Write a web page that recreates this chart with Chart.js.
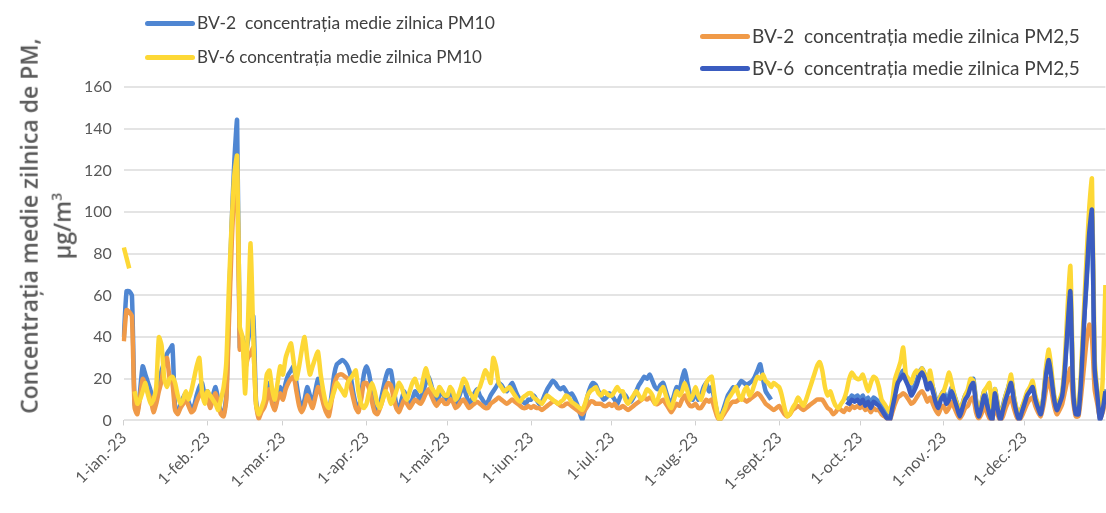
<!DOCTYPE html>
<html>
<head>
<meta charset="utf-8">
<script src="https://cdn.jsdelivr.net/npm/chart.js@4.4.0/dist/chart.umd.min.js"></script>
<style>
  body { margin: 0; background: #fff; }
  #wrap { position: relative; width: 1106px; height: 513px; font-family: Lato, 'Open Sans', sans-serif; overflow: hidden; }
  #chart { position: absolute; left: 0; top: 0; }
  .leg { position: absolute; display: flex; align-items: center; color: #404040; white-space: pre; line-height: 20px; }
  .leg .swatch { display: inline-block; width: 50px; height: 5px; border-radius: 3px; margin-right: 2px; }
  #ytitle { position: absolute; left: 45px; top: 226px; transform: translate(-50%, -50%) rotate(-90deg);
    text-align: center; color: #595959; font-family: 'Open Sans', sans-serif; font-weight: 600; font-size: 23px;
    line-height: 28px; white-space: nowrap; }
</style>
</head>
<body>
<div id="wrap">
  <!-- canvas is a little wider than the page so the plot runs to the right edge like the cropped original -->
  <canvas id="chart" width="1122" height="513"></canvas>
  <div id="ytitle">Concentrația medie zilnica de PM,<br>µg/m<sup style="font-size:14px">3</sup></div>
  <div id="legend"></div>
</div>
<script>
// x axis: one category per day of 2023, only the 1st of each month is labelled
var monthNames = ['ian.', 'feb.', 'mar.', 'apr.', 'mai', 'iun.', 'iul.', 'aug.', 'sept.', 'oct.', 'nov.', 'dec.'];
var monthDays = [31, 28, 31, 30, 31, 30, 31, 31, 30, 31, 30, 31];
var yMin = 0, yMax = 160, yStep = 20;

var seriesNames = [
  'BV-2  concentrația medie zilnica PM10',
  'BV-6 concentrația medie zilnica PM10',
  'BV-2  concentrația medie zilnica PM2,5',
  'BV-6  concentrația medie zilnica PM2,5'
];

// BV-2 PM10, one line per month
var bv2Pm10 = [
  40,62,62,60,8,4,14,26,22,18, 14,6,10,18,24,28,32,34,36,6, 4,8,11,13,9,6,7,12,16,18, 12,
  14,8,12,16,10,4,3,12,55,95, 125,144,35,40,30,38,45,50,10,2, 5,8,12,18,10,6,12,16,
  12,18,22,24,26,18,10,6,10,16, 12,8,14,20,16,10,6,4,12,22, 27,28,29,28,26,22,14,8,5,12, 22,
  26,22,14,6,4,8,14,20,24,24, 16,8,5,10,14,10,7,10,14,12, 10,14,18,21,17,12,9,12,14,11,
  10,14,12,8,10,14,16,12,8,10, 13,15,12,10,8,9,12,14,16,18, 17,15,14,16,18,15,12,10,9,8, 10,
  10,12,10,8,9,12,15,17,19,18, 16,15,16,14,12,13,11,8,4,0, 6,12,16,18,17,14,12,10,11,13,
  12,10,8,11,13,12,10,9,11,14, 17,19,21,20,22,19,16,15,17,18, 14,10,8,12,16,14,20,24,18,12, 10,
  14,10,12,16,18,14,16,10,4,0, 4,8,12,14,16,15,17,19,18,17, 18,19,21,24,27,20,14,12,10,null, null,
  null,null,null,null,null,null,null,null,null,null, null,null,null,null,null,null,null,null,null,null, null,null,null,null,null,11,10,12,11,12,
  10,12,9,11,8,11,10,9,7,5, 3,2,8,14,20,22,24,21,18,14, 16,19,23,25,22,17,20,16,11,8, 12,
  14,10,12,16,12,8,3,8,12,14, 18,20,10,3,8,14,10,4,1,15, 8,1,7,12,16,20,12,5,1,6,
  9,13,15,17,11,7,4,11,24,30, 21,11,6,9,13,26,46,60,16,4, 4,21,46,66,88,98,24,11,1,6, 15
];

// BV-6 PM10
var bv6Pm10 = [
  83,78,73,null,14,8,10,14,18,12, 8,10,16,40,36,20,16,20,21,18, 12,8,10,14,10,14,20,26,30,14, 8,
  14,12,10,8,5,10,16,28,65,95, 118,127,45,40,13,45,85,40,8,3, 6,10,22,24,15,10,18,26,
  22,30,34,37,28,20,26,34,40,30, 22,26,30,33,22,14,8,6,10,14, 18,16,14,12,18,20,22,24,14,8, 6,
  8,14,18,14,8,6,10,14,12,8, 10,14,18,16,12,10,14,18,20,16, 14,20,25,20,16,14,12,16,14,12,
  12,16,14,10,12,16,20,18,14,12, 10,14,16,20,24,22,18,30,26,18, 16,14,15,16,14,12,10,9,11,12, 13,
  13,11,10,9,8,10,12,11,10,9, 8,9,10,12,11,9,8,7,6,5, 8,12,14,15,16,13,12,14,13,12,
  12,14,16,14,14,10,8,10,12,14, 12,10,12,15,14,12,8,10,14,16, 12,8,6,10,14,12,14,18,14,10, 12,
  16,12,10,14,18,20,21,12,4,0, 3,6,10,12,14,16,12,10,14,16, 12,14,18,21,20,22,19,18,16,18, 17,
  16,12,6,2,3,6,8,11,9,7, 10,14,18,22,26,28,24,16,12,14, 10,7,6,8,10,14,20,23,21,20,
  20,22,18,14,18,21,20,16,10,8, 6,4,10,20,24,28,35,22,20,18, 22,24,22,25,22,18,24,16,10,8, 12,
  14,18,23,18,12,8,4,8,12,15, 20,19,10,4,8,14,16,18,6,15, 8,2,6,12,16,22,12,6,2,6,
  10,14,16,19,12,8,5,12,26,34, 24,12,7,10,14,30,55,74,20,5, 5,25,52,78,102,116,30,14,3,20, 65
];

// BV-2 PM2,5
var bv2Pm25 = [
  38,53,52,50,6,3,11,20,17,13, 10,4,8,14,19,28,30,20,18,5, 3,6,8,10,7,4,5,9,12,14, 10,
  11,6,10,13,8,3,2,10,48,85, 110,120,34,36,25,30,32,35,8,1, 4,6,10,15,8,5,10,13,
  10,15,18,20,21,14,7,4,7,12, 9,6,11,16,13,8,4,2,9,17, 21,22,22,21,20,17,11,6,4,10, 18,
  18,15,9,4,3,6,10,15,18,17, 11,6,4,7,10,8,6,8,10,9, 8,10,13,15,12,9,7,9,10,8,
  8,10,9,6,7,9,10,8,6,7, 8,9,8,7,6,6,8,9,10,11, 10,9,8,9,10,9,8,7,6,6, 7,
  6,7,6,6,5,6,7,8,9,9, 8,7,7,8,8,7,6,5,4,3, 5,7,9,9,8,8,8,7,7,8,
  7,8,6,6,7,6,5,6,7,8, 9,10,11,10,11,10,8,8,9,10, 8,6,4,6,8,7,10,12,9,7, 7,
  8,6,6,8,10,9,10,6,2,0, 2,4,6,8,9,9,10,11,10,9, 10,11,12,13,12,10,8,7,6,5, 6,
  7,5,3,2,3,5,6,7,6,5, 6,7,8,9,10,10,10,8,6,5, 3,4,6,5,4,6,5,7,6,7,
  6,7,5,6,4,6,5,5,3,2, 1,0,4,8,11,12,13,12,10,8, 9,11,13,14,12,9,11,8,5,3, 6,
  7,4,6,9,6,3,1,3,6,7, 10,11,4,1,3,7,4,1,0,8, 3,0,2,6,9,11,6,2,0,2,
  5,8,10,11,7,4,2,7,15,20, 14,7,3,5,8,14,20,25,10,2, 2,12,25,38,46,40,15,8,1,4, 10
];

// BV-6 PM2,5 only starts at the end of September (day index 268 = 26-sept.)
var bv6Pm25Start = 268;
var bv6Pm25 = [
  9,8,10,9,10,
  8,10,7,9,6,9,8,7,5,3, 1,0,6,12,18,20,22,19,16,12, 14,17,21,23,20,15,18,14,9,6, 10,
  12,8,10,14,10,6,2,6,10,12, 16,18,8,2,6,12,8,3,0,13, 6,0,5,10,14,18,10,4,0,4,
  8,12,14,16,10,6,3,10,22,29, 20,10,5,8,12,25,45,62,15,3, 3,20,45,68,90,101,25,12,0,5, 14
];

var colors = ['#4f86d2', '#fdd836', '#f09a48', '#3a5cc0'];

var labels = [];
monthNames.forEach(function (m, mi) {
  for (var d = 1; d <= monthDays[mi]; d++) labels.push(d + '-' + m + '-23');
});

function isMonthStart(i) {
  return labels[i] && labels[i].indexOf('1-') === 0;
}

var lastSeries = bv6Pm25.map(function (v, i) { return { x: labels[bv6Pm25Start + i], y: v }; });
var allData = [bv2Pm10, bv6Pm10, bv2Pm25, lastSeries];
var drawOrder = [4, 2, 3, 1]; // lower = drawn on top

var datasets = allData.map(function (d, i) {
  return {
    label: seriesNames[i],
    data: d,
    borderColor: colors[i],
    backgroundColor: colors[i],
    borderWidth: 4.5,
    pointRadius: 0,
    tension: 0.2,
    order: drawOrder[i],
    spanGaps: false
  };
});

// legend drawn as html so it can sit in two uneven columns like the original
var legendPos = [[145, 23, 17.5], [145, 57, 17], [700, 36, 19], [700, 68, 19]];
var legendBox = document.getElementById('legend');
seriesNames.forEach(function (name, i) {
  var el = document.createElement('div');
  el.className = 'leg';
  el.style.left = legendPos[i][0] + 'px';
  el.style.top = (legendPos[i][1] - 10) + 'px';
  el.style.fontSize = legendPos[i][2] + 'px';
  el.innerHTML = '<span class="swatch" style="background:' + colors[i] + '"></span>' + name;
  legendBox.appendChild(el);
});

new Chart(document.getElementById('chart'), {
  type: 'line',
  data: { labels: labels, datasets: datasets },
  options: {
    responsive: false,
    animation: false,
    devicePixelRatio: 1,
    layout: { padding: { left: 72, top: 87, right: 0, bottom: 16 } },
    plugins: { legend: { display: false }, tooltip: { enabled: false } },
    scales: {
      x: {
        type: 'category',
        offset: false,
        border: { display: false },
        grid: {
          drawOnChartArea: false,
          tickLength: 5,
          color: function (ctx) { return isMonthStart(ctx.index) ? '#d0d0d0' : 'rgba(0,0,0,0)'; }
        },
        ticks: {
          autoSkip: false,
          minRotation: 45,
          maxRotation: 45,
          color: '#595959',
          font: { family: 'Lato', size: 16 },
          callback: function (val, i) { return isMonthStart(i) ? labels[i] : ''; }
        }
      },
      y: {
        min: yMin,
        max: yMax,
        border: { display: false },
        grid: { color: '#e4e4e4', lineWidth: 2, drawTicks: false },
        ticks: { stepSize: yStep, color: '#595959', font: { family: 'Lato', size: 16 }, padding: 12 }
      }
    }
  }
});
</script>
</body>
</html>
